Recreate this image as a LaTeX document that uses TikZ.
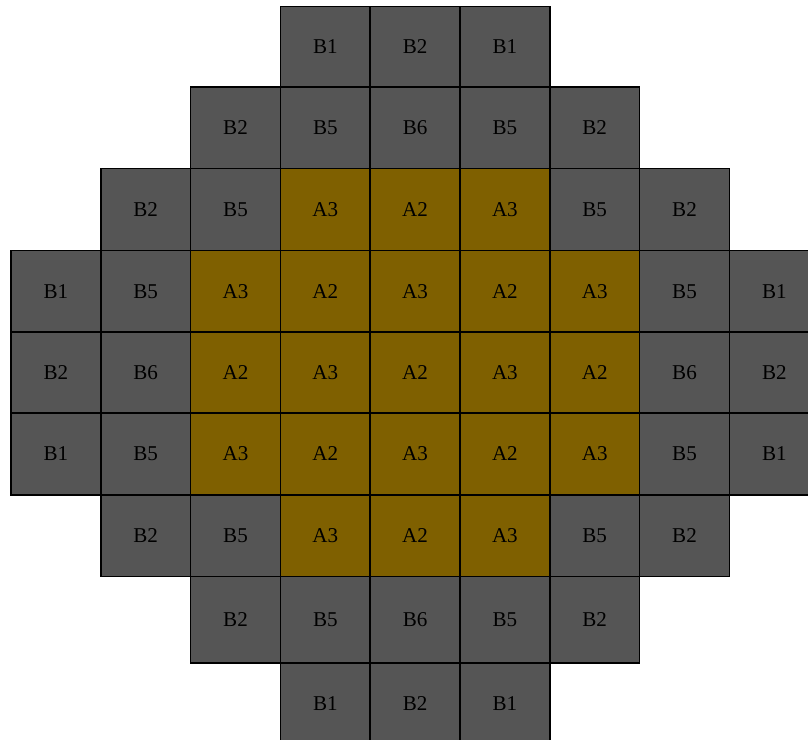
\documentclass[tikz,border=0pt]{standalone}
\usepackage{fontspec}
\setmainfont{Liberation Serif}
\usepackage{xcolor}
\usetikzlibrary{positioning}
\definecolor{rodgray}{RGB}{85,85,85}
\definecolor{rodgold}{RGB}{127,96,0}

\begin{document}
\begin{tikzpicture}[x=0.02cm, y=-0.02cm,
    cell/.style={draw=black, line width=0.9pt, inner sep=0pt,
                 minimum width=1.796cm, font=\fontsize{12}{14}\selectfont},
    cellB/.style={cell, fill=rodgray},
    cellA/.style={cell, fill=rodgold}]
    \useasboundingbox (0,0) rectangle (808,740);

    % Reihen: Nr / oben / unten / erste Spalte / Belegung
    \foreach \r/\top/\bot/\first/\labels in {
        0/6.5/87/3/{B/B1,B/B2,B/B1},
        1/87/168.5/2/{B/B2,B/B5,B/B6,B/B5,B/B2},
        2/168.5/250.5/1/{B/B2,B/B5,A/A3,A/A2,A/A3,B/B5,B/B2},
        3/250.5/332/0/{B/B1,B/B5,A/A3,A/A2,A/A3,A/A2,A/A3,B/B5,B/B1},
        4/332/413/0/{B/B2,B/B6,A/A2,A/A3,A/A2,A/A3,A/A2,B/B6,B/B2},
        5/413/495/0/{B/B1,B/B5,A/A3,A/A2,A/A3,A/A2,A/A3,B/B5,B/B1},
        6/495/576.5/1/{B/B2,B/B5,A/A3,A/A2,A/A3,B/B5,B/B2},
        7/576.5/663/2/{B/B2,B/B5,B/B6,B/B5,B/B2},
        8/663/745/3/{B/B1,B/B2,B/B1}}
    {
        \foreach \t/\lab [count=\k from \first] in \labels
            \node[cell\t, minimum height={(\bot-\top)*0.02cm}]
                (n-\r-\k) at ({11+89.8*(\k+0.5)}, {(\top+\bot)/2}) {\lab};
    }
\end{tikzpicture}
\end{document}
